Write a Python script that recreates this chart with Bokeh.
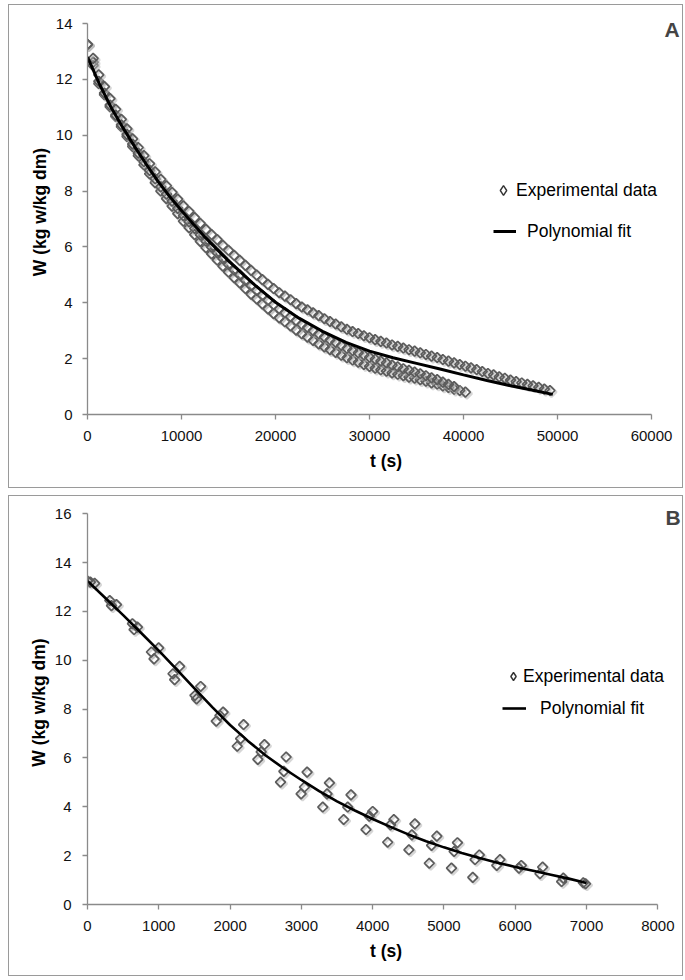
from bokeh.plotting import figure
from bokeh.layouts import column
from bokeh.models import FixedTicker, Legend, LegendItem, Label, ColumnDataSource
from bokeh.transform import dodge
from bokeh.embed import file_html
from bokeh.resources import INLINE

# ---------------- Panel A data ----------------
tA = [0, 600, 1200, 1800, 2400, 3000, 3600, 4200, 4800, 5400, 6000, 6600, 7200, 7800,
      8400, 9000, 9600, 10200, 10800, 11400, 12000, 12600, 13200, 13800, 14400, 15000,
      15600, 16200, 16800, 17400, 18000, 18600, 19200, 19800, 20400, 21000, 21600, 22200,
      22800, 23400, 24000, 24600, 25200, 25800, 26400, 27000, 27600, 28200, 28800, 29400,
      30000, 30600, 31200, 31800, 32400, 33000, 33600, 34200, 34800, 35400, 36000, 36600,
      37200, 37800, 38400, 39000, 39600, 40200, 40800, 41400, 42000, 42600, 43200, 43800,
      44400, 45000, 45600, 46200, 46800, 47400, 48000, 48600, 49200]

wA1 = [13.25, 12.75, 12.16, 11.74, 11.31, 10.93, 10.57, 10.23, 9.87, 9.56,
       9.27, 8.98, 8.69, 8.42, 8.19, 7.95, 7.71, 7.47, 7.27, 7.05,
       6.84, 6.63, 6.44, 6.26, 6.06, 5.88, 5.70, 5.52, 5.34, 5.16,
       4.99, 4.83, 4.66, 4.51, 4.36, 4.24, 4.11, 3.97, 3.85, 3.75,
       3.64, 3.54, 3.43, 3.33, 3.24, 3.14, 3.05, 2.97, 2.90, 2.82,
       2.75, 2.68, 2.62, 2.56, 2.49, 2.44, 2.38, 2.32, 2.27, 2.21,
       2.15, 2.09, 2.04, 1.97, 1.91, 1.85, 1.79, 1.73, 1.67, 1.61,
       1.54, 1.47, 1.42, 1.35, 1.30, 1.23, 1.18, 1.13, 1.08, 1.03,
       0.97, 0.91, 0.86]

wA2 = [13.25, 12.62, 11.93, 11.51, 11.08, 10.72, 10.37, 10.03, 9.68, 9.36,
       9.05, 8.74, 8.44, 8.15, 7.89, 7.64, 7.38, 7.12, 6.90, 6.66,
       6.43, 6.21, 5.99, 5.79, 5.58, 5.37, 5.18, 5.00, 4.80, 4.61,
       4.44, 4.27, 4.09, 3.93, 3.78, 3.65, 3.50, 3.36, 3.23, 3.12,
       3.00, 2.89, 2.78, 2.67, 2.58, 2.47, 2.37, 2.29, 2.21, 2.13,
       2.05, 1.98, 1.91, 1.85, 1.77, 1.71, 1.64, 1.58, 1.52, 1.46,
       1.39, 1.31, 1.25, 1.16, 1.08, 1.00]

wA3 = [13.25, 12.50, 11.85, 11.45, 11.02, 10.67, 10.31, 9.96, 9.60, 9.27,
       8.94, 8.62, 8.30, 8.00, 7.73, 7.46, 7.19, 6.92, 6.69, 6.44,
       6.20, 5.97, 5.75, 5.53, 5.31, 5.10, 4.90, 4.71, 4.51, 4.31,
       4.14, 3.96, 3.78, 3.61, 3.46, 3.32, 3.17, 3.02, 2.89, 2.77,
       2.65, 2.53, 2.42, 2.32, 2.22, 2.12, 2.03, 1.95, 1.87, 1.79,
       1.72, 1.66, 1.60, 1.55, 1.49, 1.44, 1.39, 1.34, 1.30, 1.25,
       1.19, 1.13, 1.09, 1.02, 0.97, 0.91, 0.86, 0.80]

tFitA = [0, 1250, 2500, 3750, 5000, 6250, 7500, 8750, 10000, 11250, 12500, 13750,
         15000, 17500, 20000, 22500, 25000, 27500, 30000, 32500, 35000, 37500,
         40000, 42500, 45000, 47500, 49500]
wFitA = [12.80, 11.85, 11.00, 10.28, 9.60, 8.96, 8.35, 7.80, 7.30, 6.82, 6.35, 5.92,
         5.50, 4.72, 4.02, 3.45, 2.98, 2.58, 2.27, 2.03, 1.83, 1.63,
         1.42, 1.22, 1.03, 0.86, 0.72]

xticksA = [0, 10000, 20000, 30000, 40000, 50000, 60000]
yticksA = [0, 2, 4, 6, 8, 10, 12, 14]

# ---------------- Panel B data ----------------
tB = [0, 40, 100, 312, 336, 406, 630, 653, 700, 896, 933, 998, 1199, 1222, 1292,
      1507, 1530, 1587, 1806, 1857, 1902, 2100, 2147, 2189, 2389, 2436, 2482,
      2707, 2754, 2786, 2996, 3043, 3080, 3300, 3360, 3393, 3593, 3650, 3696,
      3906, 3952, 4000, 4210, 4250, 4297, 4508, 4550, 4592, 4794, 4826, 4900,
      5105, 5142, 5189, 5404, 5436, 5496, 5740, 5786, 6052, 6085, 6346, 6384,
      6650, 6674, 6954, 6986]
wB = [13.25, 13.20, 13.15, 12.45, 12.24, 12.28, 11.50, 11.26, 11.36, 10.34, 10.06, 10.51,
      9.45, 9.21, 9.75, 8.56, 8.42, 8.93, 7.51, 7.74, 7.88, 6.48, 6.79, 7.37,
      5.94, 6.25, 6.55, 5.01, 5.45, 6.04, 4.53, 4.81, 5.42, 3.99, 4.53, 4.98,
      3.48, 3.99, 4.49, 3.07, 3.62, 3.81, 2.55, 3.26, 3.48, 2.24, 2.85, 3.30,
      1.69, 2.42, 2.80, 1.49, 2.17, 2.53, 1.11, 1.84, 2.03, 1.60, 1.84,
      1.49, 1.60, 1.26, 1.53, 0.94, 1.08, 0.89, 0.85]

tFitB = [0, 250, 500, 750, 1000, 1250, 1500, 1750, 2000, 2250, 2500, 2750, 3000,
         3250, 3500, 3750, 4000, 4250, 4500, 4750, 5000, 5250, 5500, 5750, 6000,
         6250, 6500, 6750, 7000]
wFitB = [13.25, 12.55, 11.85, 11.13, 10.40, 9.63, 8.85, 8.08, 7.35, 6.70, 6.10, 5.58,
         5.10, 4.64, 4.22, 3.85, 3.50, 3.18, 2.87, 2.59, 2.34, 2.11, 1.90, 1.71,
         1.54, 1.38, 1.22, 1.06, 0.88]

xticksB = [0, 1000, 2000, 3000, 4000, 5000, 6000, 7000, 8000]
yticksB = [0, 2, 4, 6, 8, 10, 12, 14, 16]

LEG_EXP = "Experimental data"
LEG_FIT = "Polynomial fit"
X_LABEL = "t (s)"
Y_LABEL = "W (kg w/kg dm)"

# ---------------- styling ----------------
FONT = "Liberation Sans"
AXIS_COL = "#8a8a8a"
MARK_COL = "#5c5c5c"
SHADOW_COL = "#b4b4b4"
BOX_COL = "#9a9a9a"


def make_panel(W, H, x_axis_max, axis_w_px, y_axis_max, axis_h_px, xt, yt,
               bl, br, bt, bb, ystand):
    # The frame is larger than the drawn axes so that the legend and the panel
    # letter are not clipped; the axes are limited with bounds.
    frame_w = W - bl - br
    frame_h = H - bt - bb
    x_end = x_axis_max * frame_w / axis_w_px
    y_end = y_axis_max * frame_h / axis_h_px
    p = figure(width=W, height=H, x_range=(0, x_end), y_range=(0, y_end),
               output_backend="svg", toolbar_location=None,
               min_border_left=bl, min_border_right=br,
               min_border_top=bt, min_border_bottom=bb,
               styles={"border": "1px solid " + BOX_COL})
    p.grid.visible = False
    p.outline_line_color = None
    p.background_fill_color = "white"
    p.border_fill_color = "white"
    for ax in (p.xaxis[0], p.yaxis[0]):
        ax.axis_line_color = AXIS_COL
        ax.axis_line_width = 1.3
        ax.major_tick_line_color = AXIS_COL
        ax.major_tick_line_width = 1.3
        ax.major_tick_out = 5
        ax.major_tick_in = 0
        ax.minor_tick_line_color = None
        ax.major_label_text_font = FONT
        ax.major_label_text_font_size = "15px"
        ax.major_label_text_color = "#111111"
        ax.axis_label_text_font = FONT
        ax.axis_label_text_font_size = "17.5px"
        ax.axis_label_text_font_style = "bold"
        ax.axis_label_text_color = "#000000"
    p.xaxis[0].ticker = FixedTicker(ticks=xt)
    p.xaxis[0].bounds = (0, x_axis_max)
    p.yaxis[0].ticker = FixedTicker(ticks=yt)
    p.yaxis[0].bounds = (0, y_axis_max)
    p.xaxis[0].axis_label = X_LABEL
    p.yaxis[0].axis_label = Y_LABEL
    p.xaxis[0].major_label_standoff = 11
    p.xaxis[0].axis_label_standoff = 7
    p.yaxis[0].major_label_standoff = ystand
    p.yaxis[0].axis_label_standoff = 3
    return p


def add_legends(p, r_exp, r_fit, loc_exp, loc_fit, gw_exp, gw_fit, st_exp, st_fit):
    specs = ((r_exp, LEG_EXP, loc_exp, gw_exp, 24, st_exp),
             (r_fit, LEG_FIT, loc_fit, gw_fit, 24, st_fit))
    for r, lab, loc, gw, gh, st in specs:
        lg = Legend(items=[LegendItem(label=lab, renderers=[r])], location=loc,
                    orientation="vertical", padding=0, spacing=0, margin=0,
                    glyph_width=gw, glyph_height=gh, label_height=20,
                    label_standoff=st, border_line_alpha=0, background_fill_alpha=0,
                    inactive_fill_alpha=0,
                    label_text_font=FONT, label_text_font_size="17.5px",
                    label_text_color="#000000")
        p.add_layout(lg)


mk = dict(marker="square", size=7, angle=0.7854, fill_alpha=0,
          line_color=MARK_COL, line_width=1.7)
shadow = dict(marker="square", size=7, angle=0.7854, fill_alpha=0,
              line_color=SHADOW_COL, line_width=2.4, line_alpha=0.55)
legend_mark = dict(marker="diamond", fill_alpha=0, line_color="#333333", line_width=1.4)


def scatter_with_shadow(p, t, w, dx, dy):
    src = ColumnDataSource(dict(t=t, w=w))
    p.scatter(x=dodge("t", dx), y=dodge("w", dy), source=src, **shadow)
    return p.scatter(x="t", y="w", source=src, **mk)


# ---------------- Panel A ----------------
pA = make_panel(675, 484, 60000, 564, 14, 391, xticksA, yticksA, 78, 0, 4, 75, 10)
scatter_with_shadow(pA, tA[:len(wA3)], wA3, 160, -0.054)
scatter_with_shadow(pA, tA[:len(wA2)], wA2, 160, -0.054)
scatter_with_shadow(pA, tA[:len(wA1)], wA1, 160, -0.054)
rFA = pA.line(tFitA, wFitA, line_color="#000000", line_width=3)
# legend-only proxy for the diamond symbol (hidden in the plot itself)
legA = pA.scatter(x=tA[:1], y=wA1[:1], visible=False, **legend_mark)
add_legends(pA, legA, rFA, (404, 212), (406, 171), 24, 23, 1, 11)
pA.add_layout(Label(x=62200, y=13.78, text="A", text_font=FONT, text_font_size="21px",
                    text_font_style="bold", text_align="center", text_baseline="middle"))
pA.margin = (4, 0, 0, 8)

# ---------------- Panel B ----------------
pB = make_panel(675, 481, 8000, 571.3, 16, 390.7, xticksB, yticksB, 77, 0, 4, 73, 11)
scatter_with_shadow(pB, tB, wB, 21, -0.061)
rFB = pB.line(tFitB, wFitB, line_color="#000000", line_width=2.6)
legB = pB.scatter(x=tB[:1], y=wB[:1], visible=False, **legend_mark)
add_legends(pB, legB, rFB, (416, 216), (415, 184), 20, 24, 0, 14)
pB.add_layout(Label(x=8215, y=15.86, text="B", text_font=FONT, text_font_size="21px",
                    text_font_style="bold", text_align="center", text_baseline="middle"))
pB.margin = (7, 0, 0, 8)

layout = column(pA, pB, spacing=0)
open("out.html", "w").write(file_html(layout, INLINE))
